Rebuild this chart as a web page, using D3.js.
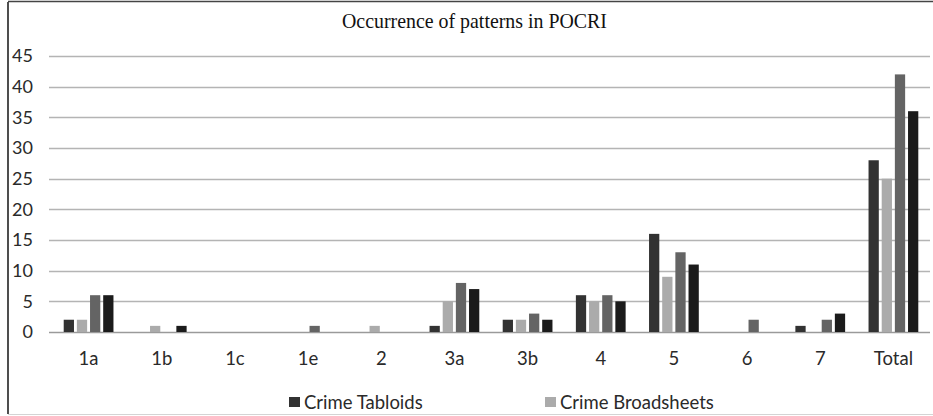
<!DOCTYPE html>
<html>
<head>
<meta charset="utf-8">
<script src="https://cdn.jsdelivr.net/npm/d3@7/dist/d3.min.js"></script>
<style>
  html, body { margin: 0; padding: 0; background: #fff; }
  svg { display: block; }
</style>
</head>
<body>
<svg id="chart" width="933" height="416"></svg>
<script>
// Pattern categories along the x axis
const categories = ["1a", "1b", "1c", "1e", "2", "3a", "3b", "4", "5", "6", "7", "Total"];

// Counts per series, one value per category
const seriesA = [2, 0, 0, 0, 0, 1, 2, 6, 16, 0, 1, 28];
const seriesB = [2, 1, 0, 0, 1, 5, 2, 5, 9, 0, 0, 25];
const seriesC = [6, 0, 0, 1, 0, 8, 3, 6, 13, 2, 2, 42];
const seriesD = [6, 1, 0, 0, 0, 7, 2, 5, 11, 0, 3, 36];

const seriesKeys = ["A", "B", "C", "D"];
const seriesValues = [seriesA, seriesB, seriesC, seriesD];
const seriesColors = ["#323232", "#ababab", "#646464", "#1b1b1b"];

// Legend entries shown under the chart
const legendLabels = ["Crime Tabloids", "Crime Broadsheets"];

// Y axis ticks
const yTicks = [0, 5, 10, 15, 20, 25, 30, 35, 40, 45];

const title = "Occurrence of patterns in POCRI";

const sans = "Lato, 'Open Sans', sans-serif";
const svg = d3.select("#chart");

// Outer frame
svg.append("line").attr("x1", 8).attr("x2", 8).attr("y1", 2).attr("y2", 414)
  .attr("stroke", "#222").attr("stroke-width", 1.6);
svg.append("line").attr("x1", 8).attr("x2", 933).attr("y1", 1.5).attr("y2", 1.5)
  .attr("stroke", "#444").attr("stroke-width", 1.4);
svg.append("line").attr("x1", 8).attr("x2", 933).attr("y1", 414.5).attr("y2", 414.5)
  .attr("stroke", "#d4d4d4").attr("stroke-width", 1.2);

// Title
svg.append("text")
  .attr("x", 342).attr("y", 28)
  .attr("textLength", 265)
  .attr("lengthAdjust", "spacingAndGlyphs")
  .attr("font-family", "'Liberation Serif', 'Times New Roman', serif")
  .attr("font-size", 21)
  .attr("fill", "#111")
  .text(title);

// Scales
const x0 = d3.scaleBand().domain(categories).range([52, 930]).paddingInner(0.32).paddingOuter(0.16);
const x1 = d3.scaleBand().domain(seriesKeys).range([0, x0.bandwidth()]).paddingInner(0.22);
const y = d3.scaleLinear().domain([0, 45]).range([332, 56]);

// Gridlines
svg.append("g")
  .selectAll("line")
  .data(yTicks)
  .join("line")
  .attr("x1", 49).attr("x2", 930)
  .attr("y1", d => Math.round(y(d)) + 0.5).attr("y2", d => Math.round(y(d)) + 0.5)
  .attr("stroke", d => d === 0 ? "#9a9a9a" : "#b4b4b4")
  .attr("stroke-width", 1.5);

// Y axis labels
const yAxis = d3.axisLeft(y).tickValues(yTicks).tickSize(0).tickPadding(0);
const yg = svg.append("g").attr("transform", "translate(33,0)").call(yAxis);
yg.select(".domain").remove();
yg.selectAll("text")
  .attr("font-family", sans)
  .attr("font-size", 18)
  .attr("fill", "#2a2a2a");

// X axis labels
const xAxis = d3.axisBottom(x0).tickSize(0).tickPadding(0);
const xg = svg.append("g").attr("transform", "translate(0,352)").call(xAxis);
xg.select(".domain").remove();
xg.selectAll("text")
  .attr("font-family", sans)
  .attr("font-size", 18.5)
  .attr("fill", "#2a2a2a");

// Bars
const rows = categories.map((c, i) => ({
  category: c,
  values: seriesKeys.map((k, s) => ({ key: k, value: seriesValues[s][i], color: seriesColors[s] }))
}));

svg.append("g")
  .selectAll("g")
  .data(rows)
  .join("g")
  .attr("transform", d => `translate(${x0(d.category)},0)`)
  .selectAll("rect")
  .data(d => d.values.filter(v => v.value > 0))
  .join("rect")
  .attr("x", d => x1(d.key))
  .attr("width", x1.bandwidth())
  .attr("y", d => y(d.value))
  .attr("height", d => y(0) - y(d.value))
  .attr("fill", d => d.color);

// Legend
const legend = svg.append("g").attr("transform", "translate(289,402)");
const legendItems = legend.selectAll("g")
  .data(legendLabels)
  .join("g")
  .attr("transform", (d, i) => `translate(${i * 256},0)`);
legendItems.append("rect")
  .attr("x", 0).attr("y", -5).attr("width", 11).attr("height", 10)
  .attr("fill", (d, i) => seriesColors[i]);
legendItems.append("text")
  .attr("x", 15).attr("y", 6.5)
  .attr("font-family", sans)
  .attr("font-size", 18.5)
  .attr("fill", "#2a2a2a")
  .text(d => d);
</script>
</body>
</html>
